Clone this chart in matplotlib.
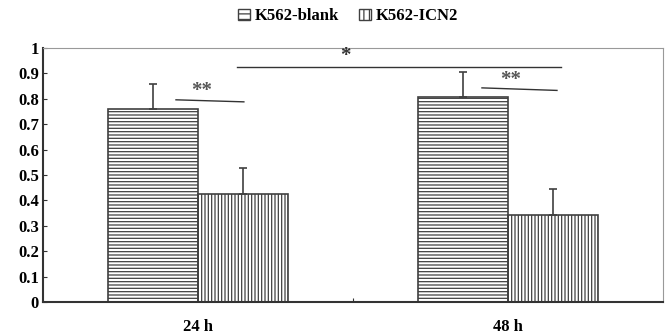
import numpy as np
import matplotlib.pyplot as plt
from matplotlib.patches import Patch

plt.rcParams['font.family'] = ['Liberation Serif', 'DejaVu Serif']
plt.rcParams['font.weight'] = 'bold'
plt.rcParams['hatch.linewidth'] = 0.9
plt.rcParams['hatch.color'] = '#8a8a8a'

groups = ['24 h', '48 h']
series = ['K562-blank', 'K562-ICN2']
blank = [0.76, 0.807]
blank_err = [0.10, 0.10]
icn2 = [0.427, 0.343]
icn2_err = [0.10, 0.10]
yticks = [0, 0.1, 0.2, 0.3, 0.4, 0.5, 0.6, 0.7, 0.8, 0.9, 1]
ytick_labels = ['0', '0.1', '0.2', '0.3', '0.4', '0.5', '0.6', '0.7', '0.8', '0.9', '1']

fig = plt.figure(figsize=(6.69, 3.36), dpi=100)
ax = fig.add_axes([43/669, 34/336, 620/669, 254/336])

x = np.arange(len(groups))
w = 0.29
edge = '#404040'
ax.bar(x - w/2, blank, w, color='white', edgecolor=edge, hatch='-----', linewidth=1.2)
ax.bar(x + w/2, icn2, w, color='white', edgecolor=edge, hatch='|||||', linewidth=1.2)
ax.errorbar(x - w/2, blank, yerr=[np.zeros(2), blank_err], fmt='none',
            ecolor=edge, elinewidth=1.2, capsize=3, capthick=1.2)
ax.errorbar(x + w/2, icn2, yerr=[np.zeros(2), icn2_err], fmt='none',
            ecolor=edge, elinewidth=1.2, capsize=3, capthick=1.2)

# significance marks
ax.plot([0.126, 1.171], [0.925, 0.925], color='#333333', lw=1.0)
ax.text(0.477, 0.93, '*', ha='center', va='bottom', fontsize=15, color='#333333')
ax.plot([-0.071, 0.148], [0.796, 0.788], color='#333333', lw=1.0)
ax.text(0.013, 0.79, '**', ha='center', va='bottom', fontsize=15, color='#555555')
ax.plot([0.916, 1.158], [0.843, 0.833], color='#333333', lw=1.0)
ax.text(1.01, 0.835, '**', ha='center', va='bottom', fontsize=15, color='#555555')

ax.set_xlim(-0.5, 1.5)
ax.set_ylim(0, 1)
ax.set_yticks(yticks)
ax.set_yticklabels(ytick_labels, fontsize=12)
ax.set_xticks([0.5])
ax.set_xticklabels([''])
ax.tick_params(axis='x', direction='in', length=3, color='#333333')
ax.tick_params(axis='y', direction='in', length=3, color='#333333', pad=3)
for i, g in enumerate(groups):
    ax.text(x[i], -0.065, g, ha='center', va='top', fontsize=12, transform=ax.transData)

ax.spines['left'].set_color('#333333')
ax.spines['left'].set_linewidth(1.5)
ax.spines['bottom'].set_color('#333333')
ax.spines['bottom'].set_linewidth(1.5)
ax.spines['top'].set_color('#999999')
ax.spines['right'].set_color('#999999')

handles = [Patch(facecolor='white', edgecolor=edge, hatch='---', label=series[0]),
           Patch(facecolor='white', edgecolor=edge, hatch='|||', label=series[1])]
fig.legend(handles=handles, loc='upper center', bbox_to_anchor=(0.52, 1.02), ncol=2,
           frameon=False, fontsize=12, handlelength=0.7, handleheight=0.7,
           handletextpad=0.3, columnspacing=1.2)

fig.savefig('out.png', dpi=100)
